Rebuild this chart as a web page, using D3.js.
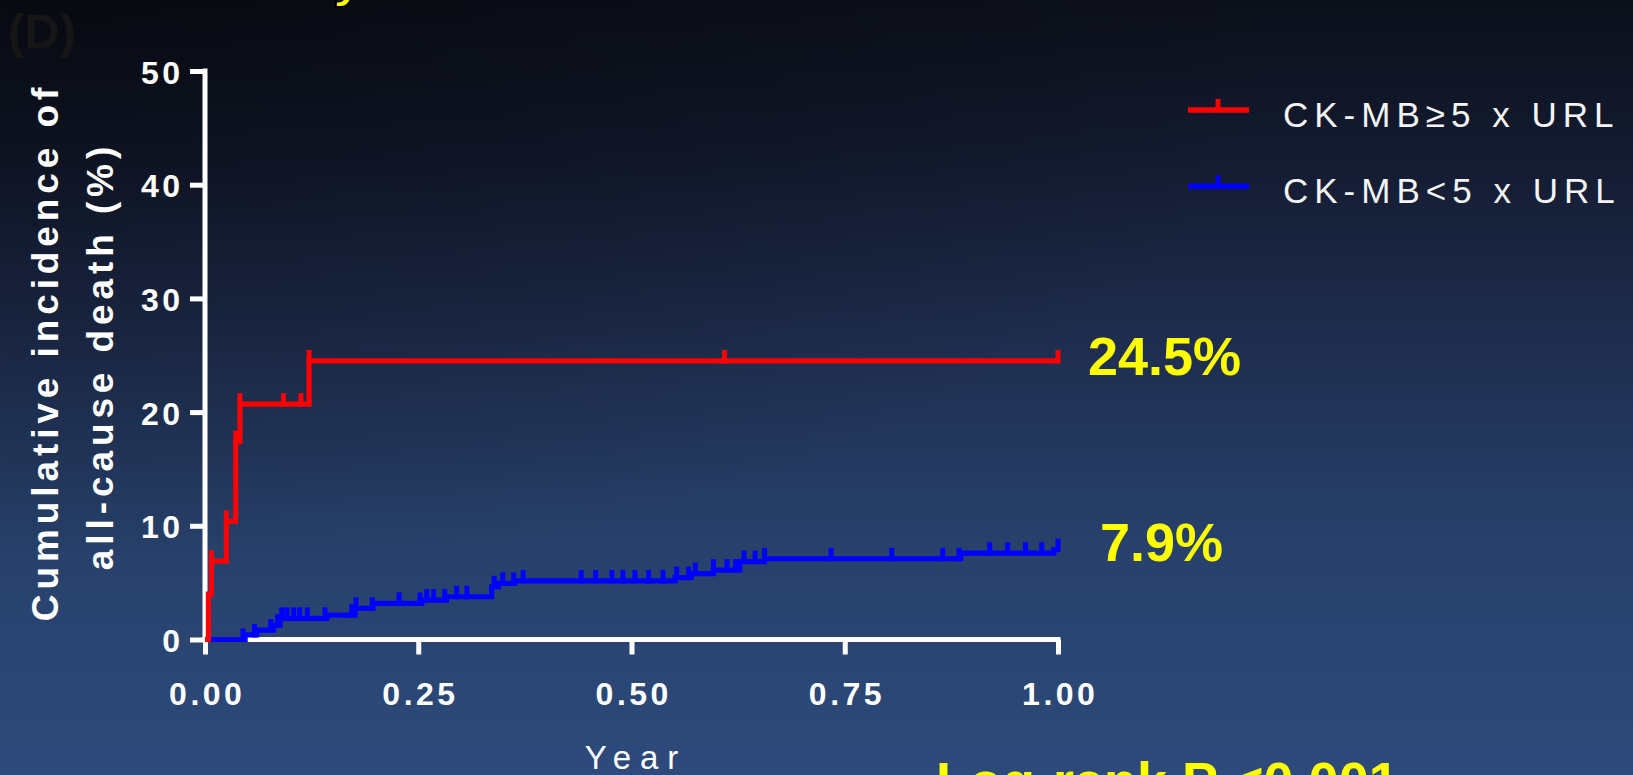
<!DOCTYPE html>
<html><head><meta charset="utf-8">
<script src="https://cdn.jsdelivr.net/npm/d3@7"></script>
<style>html,body{margin:0;padding:0;overflow:hidden;background:#1a2540}</style>
</head><body><svg id="chart" width="1633" height="775"></svg>
<script>
// ---- data ----
const xTickValues = [0, 0.25, 0.5, 0.75, 1.0];
const yTickValues = [0, 10, 20, 30, 40, 50];
const seriesNames = ["CK-MB\u22655 x URL", "CK-MB<5 x URL"];
const seriesColors = ["#ff0000", "#0000ff"];
const endLabels = ["24.5%", "7.9%"];

const redTimes  = [0, 0.004, 0.0075, 0.025, 0.036, 0.041, 0.122];
const redValues = [0, 4.0, 6.9, 10.4, 17.4, 20.7, 24.5];
const redCensor = [0.0075, 0.025, 0.036, 0.041, 0.092, 0.1125, 0.122, 0.609, 1.0];

const blueTimes  = [0, 0.047, 0.0606, 0.080, 0.088, 0.1427, 0.176, 0.197, 0.254, 0.283, 0.336, 0.344, 0.363, 0.551, 0.570, 0.596, 0.627, 0.656, 0.886, 0.995];
const blueValues = [0, 0.4, 0.83, 1.27, 1.86, 2.15, 2.74, 3.18, 3.47, 3.76, 4.64, 4.94, 5.15, 5.45, 5.8, 6.1, 6.85, 7.1, 7.6, 7.9];
const blueCensor = [0.0445, 0.058, 0.077, 0.085, 0.09, 0.096, 0.104, 0.111, 0.120, 0.1407, 0.172, 0.177, 0.196, 0.2275,
  0.252, 0.260, 0.268, 0.281, 0.295, 0.307, 0.339, 0.349, 0.362, 0.373, 0.441, 0.458, 0.477, 0.490, 0.504, 0.520,
  0.537, 0.553, 0.567, 0.575, 0.596, 0.612, 0.622, 0.632, 0.645, 0.656, 0.734, 0.805, 0.865, 0.884, 0.92, 0.941,
  0.962, 0.981, 1.0];
const tEnd = 1.0;

// ---- setup ----
const svg = d3.select("#chart");
const W = 1633, H = 775;
const defs = svg.append("defs");
const lg = defs.append("linearGradient").attr("id","bg").attr("x1",0).attr("y1",0).attr("x2",0).attr("y2",1);
[[0,"#0c101b"],[0.2,"#131b30"],[0.45,"#1f2e50"],[0.7,"#27416b"],[1,"#2d4a7b"]].forEach(s=>lg.append("stop").attr("offset",s[0]).attr("stop-color",s[1]));
const rg = defs.append("radialGradient").attr("id","shade").attr("cx",0.05).attr("cy",0).attr("r",0.75)
  .attr("gradientUnits","objectBoundingBox");
rg.append("stop").attr("offset",0).attr("stop-color","#000").attr("stop-opacity",0.4);
rg.append("stop").attr("offset",1).attr("stop-color","#000").attr("stop-opacity",0);
svg.append("rect").attr("width",W).attr("height",H).attr("fill","url(#bg)");
svg.append("rect").attr("width",W).attr("height",H).attr("fill","url(#shade)");

const FONT = "'Liberation Sans', Arial, Helvetica, sans-serif";

// partial title fragment at top & panel label
svg.append("text").attr("x",333).attr("y",-5).attr("font-family",FONT).attr("font-weight","bold")
  .attr("font-size",56).attr("fill","#ffff00").attr("stroke","#000").attr("stroke-width",2).text("y");
svg.append("text").attr("x",8).attr("y",48).attr("font-family",FONT).attr("font-weight","bold")
  .attr("font-size",49).attr("fill","#161616").text("(D)");

const x = d3.scaleLinear().domain([0,1]).range([205,1058]);
const y = d3.scaleLinear().domain([0,50]).range([639.5,71]);

// ---- axes ----
const axisColor = "#ffffff";
const gy = svg.append("g").attr("transform",`translate(${x(0)},0)`)
  .call(d3.axisLeft(y).tickValues(yTickValues).tickSize(15).tickSizeOuter(0).tickPadding(9).tickFormat(d3.format("d")));
const gx = svg.append("g").attr("transform",`translate(0,${y(0)})`)
  .call(d3.axisBottom(x).tickValues(xTickValues).tickSize(15).tickSizeOuter(0).tickFormat(d3.format(".2f")));
[gx,gy].forEach(g=>{
  g.select(".domain").attr("stroke",axisColor).attr("stroke-width",5);
  g.selectAll(".tick line").attr("stroke",axisColor).attr("stroke-width",5);
  g.selectAll("text").attr("fill","#ffffff").attr("font-family",FONT).attr("font-weight","bold")
    .attr("font-size",32).attr("letter-spacing","3.5px");
});
gy.select(".domain").attr("d",`M0,${y(50)-2.5}V${y(0)+2.5}`);
gx.select(".domain").attr("d",`M${x(0)-2.5},0H${x(1)+2.5}`);
gy.selectAll("text").attr("dy",null).attr("y",12).attr("x",-25+3.5);
gx.selectAll("text").attr("dy",null).attr("y",65).attr("dx",1.75);

// axis titles
svg.append("text").attr("transform",`translate(58,352) rotate(-90)`).attr("text-anchor","middle")
  .attr("font-family",FONT).attr("font-weight","bold").attr("font-size",37).attr("letter-spacing","4.9px")
  .attr("fill","#ffffff").text("Cumulative incidence of");
svg.append("text").attr("transform",`translate(113,356) rotate(-90)`).attr("text-anchor","middle")
  .attr("font-family",FONT).attr("font-weight","bold").attr("font-size",37).attr("letter-spacing","4.9px")
  .attr("fill","#ffffff").text("all-cause death (%)");
svg.append("text").attr("x",(x(0)+x(1))/2+4.5).attr("y",769).attr("text-anchor","middle")
  .attr("font-family",FONT).attr("font-size",33).attr("letter-spacing","9px")
  .attr("fill","#ffffff").text("Year");

// ---- curves ----
function valueAt(times, values, t){ let v = values[0]; for(let i=0;i<times.length;i++){ if(times[i] <= t+1e-9) v = values[i]; } return v; }
const line = d3.line().x(d=>x(d[0])).y(d=>y(d[1])).curve(d3.curveStepAfter);
const series = [
  {times: redTimes, values: redValues, censor: redCensor},
  {times: blueTimes, values: blueValues, censor: blueCensor}
];
series.slice().reverse().forEach((s,ri)=>{
  const i = series.length-1-ri;
  const pts = s.times.map((t,k)=>[t,s.values[k]]);
  pts.push([tEnd, s.values[s.values.length-1]]);
  svg.append("path").attr("d",line(pts)).attr("fill","none").attr("stroke",seriesColors[i])
    .attr("stroke-width",5.2).attr("stroke-linejoin","miter").attr("stroke-linecap","butt");
  svg.append("g").selectAll("line").data(s.censor).join("line")
    .attr("x1",d=>x(d)).attr("x2",d=>x(d))
    .attr("y1",d=>y(valueAt(s.times,s.values,d))+2.5)
    .attr("y2",d=>y(valueAt(s.times,s.values,d))-11)
    .attr("stroke",seriesColors[i]).attr("stroke-width",5);
});

// ---- end labels ----
const labelPos = [[1088,375],[1100,561]];
endLabels.forEach((t,i)=>{
  svg.append("text").attr("x",labelPos[i][0]).attr("y",labelPos[i][1]).attr("font-family",FONT)
    .attr("font-weight","bold").attr("font-size",54).attr("fill","#ffff00").text(t);
});
svg.append("text").attr("x",936).attr("y",800).attr("font-family",FONT)
  .attr("font-weight","bold").attr("font-size",54).attr("fill","#ffff00").text("Log-rank P <0.001");

// ---- legend ----
const legY = [110, 186.3];
seriesNames.forEach((n,i)=>{
  const g = svg.append("g");
  g.append("line").attr("x1",1188).attr("x2",1249).attr("y1",legY[i]).attr("y2",legY[i])
    .attr("stroke",seriesColors[i]).attr("stroke-width",5.5);
  g.append("line").attr("x1",1218).attr("x2",1218).attr("y1",legY[i]).attr("y2",legY[i]-11)
    .attr("stroke",seriesColors[i]).attr("stroke-width",5);
  g.append("text").attr("x",1283).attr("y",legY[i]+16.5).attr("font-family",FONT)
    .attr("font-size",35).attr("letter-spacing","6px").attr("fill","#f4f4f4").text(n);
});
</script></body></html>
